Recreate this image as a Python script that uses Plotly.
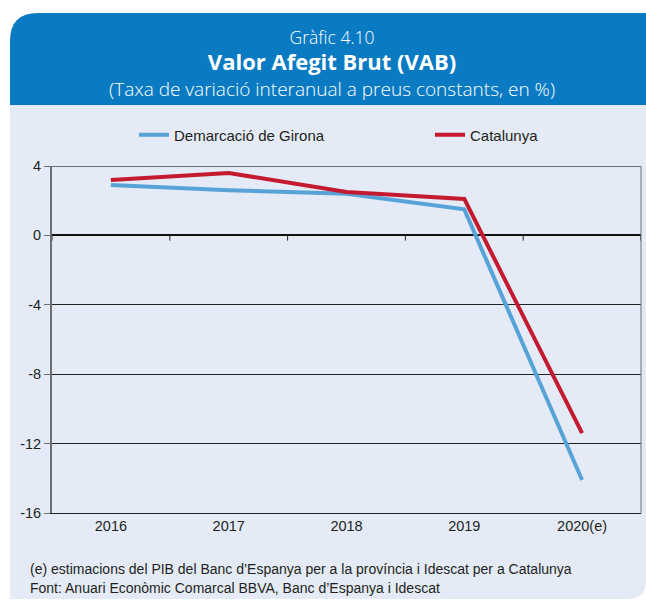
import plotly.graph_objects as go

# Series data: interannual change of gross value added (%)
years = ["2016", "2017", "2018", "2019", "2020(e)"]
girona = [2.9, 2.6, 2.4, 1.5, -14.1]
catalunya = [3.2, 3.6, 2.5, 2.1, -11.4]
y_ticks = [4, 0, -4, -8, -12, -16]
y_tick_text = ["4", "0", "-4", "-8", "-12", "-16"]

W, H = 646, 601
L, R, T, B = 52, 5, 166, 88
PW, PH = W - L - R, H - T - B

BLUE_HEAD = "#0a7bc2"
PANEL = "#e4ebf6"
C_GIR = "#57a3d8"
C_CAT = "#c41a30"
AXIS_GREY = "#6d6e71"
TEXT = "#231f20"

SANS = "Liberation Sans, Arial, Helvetica, sans-serif"
HEAD = "Open Sans, Liberation Sans, sans-serif"


def px(x):
    return (x - L) / PW


def py(y):
    return (H - B - y) / PH


def rounded_path(x0, y0, x1, y1, r_tl=0, r_br=0):
    pts = [f"M {px(x0)},{py(y0 + r_tl)}"]
    if r_tl:
        pts.append(f"Q {px(x0)},{py(y0)} {px(x0 + r_tl)},{py(y0)}")
    pts.append(f"L {px(x1)},{py(y0)}")
    pts.append(f"L {px(x1)},{py(y1 - r_br)}")
    if r_br:
        pts.append(f"Q {px(x1)},{py(y1)} {px(x1 - r_br)},{py(y1)}")
    pts.append(f"L {px(x0)},{py(y1)} Z")
    return " ".join(pts)


fig = go.Figure()
fig.add_trace(go.Scatter(x=years, y=girona, mode="lines", name="Demarcació de Girona",
                         line=dict(color=C_GIR, width=4), legend="legend"))
fig.add_trace(go.Scatter(x=years, y=catalunya, mode="lines", name="Catalunya",
                         line=dict(color=C_CAT, width=4), legend="legend2"))

shapes = [
    # light panel behind the whole chart
    dict(type="path", path=rounded_path(10, 13, 646, 599, r_tl=28, r_br=18),
         xref="paper", yref="paper", fillcolor=PANEL, line=dict(width=0), layer="below"),
    # blue header band
    dict(type="path", path=rounded_path(10, 13, 646, 105, r_tl=28),
         xref="paper", yref="paper", fillcolor=BLUE_HEAD, line=dict(width=0), layer="below"),
    # top frame line at the upper limit
    dict(type="line", xref="paper", yref="y", x0=0, x1=1, y0=4, y1=4,
         line=dict(color=AXIS_GREY, width=2)),
    # right frame line
    dict(type="line", xref="paper", yref="paper", x0=1, x1=1, y0=0, y1=1,
         line=dict(color=AXIS_GREY, width=1)),
]
# category boundary ticks hanging from the zero line
for i in range(len(years) + 1):
    xb = i - 0.5
    shapes.append(dict(type="line", xref="x", yref="y", x0=xb, x1=xb, y0=0, y1=-0.3,
                       line=dict(color="#222222", width=1)))


def note(text, x, y, size, color, anchor="center", family=SANS, weight="normal"):
    return dict(text=text, x=px(x), y=py(y), xref="paper", yref="paper",
                xanchor=anchor, yanchor="middle", showarrow=False,
                font=dict(family=family, size=size, color=color, weight=weight))


header = ('<span style="font-size:17.5px">Gràfic 4.10</span><br>'
          '<b><span style="font-size:22px">Valor Afegit Brut (VAB)</span></b><br>'
          '<span style="font-size:19px">(Taxa de variació interanual a preus constants, en %)</span>')

annotations = [
    note(header, 332, 63.5, 20, "white", family=HEAD, weight=300),
    note("(e) estimacions del PIB del Banc d’Espanya per a la província i Idescat per a Catalunya",
         28, 569, 14, TEXT, "left"),
    note("Font: Anuari Econòmic Comarcal BBVA, Banc d’Espanya i Idescat",
         28, 588, 14, TEXT, "left"),
]

legend_style = dict(orientation="h", xanchor="left", yanchor="middle",
                    bgcolor="rgba(0,0,0,0)",
                    font=dict(family=SANS, size=15, color=TEXT))

fig.update_layout(
    width=W, height=H,
    margin=dict(l=L, r=R, t=T, b=B),
    paper_bgcolor="white",
    plot_bgcolor="rgba(0,0,0,0)",
    shapes=shapes,
    annotations=annotations,
    showlegend=True,
    legend=dict(x=px(134), y=py(135), **legend_style),
    legend2=dict(x=px(430), y=py(135), **legend_style),
    xaxis=dict(type="category", range=[-0.5, 4.5], showgrid=False, zeroline=False,
               showline=True, linecolor="#222222", linewidth=1, ticks="",
               tickfont=dict(family=SANS, size=14.5, color=TEXT)),
    yaxis=dict(range=[-16, 4], tickvals=y_ticks, ticktext=y_tick_text,
               showgrid=True, gridcolor="#222222",
               gridwidth=1, zeroline=True, zerolinecolor="#111111", zerolinewidth=1.5,
               showline=True, linecolor=AXIS_GREY, linewidth=2,
               ticks="outside", ticklen=6, tickcolor=AXIS_GREY,
               tickfont=dict(family=SANS, size=14.5, color=TEXT)),
)

fig.write_html("out.html")
